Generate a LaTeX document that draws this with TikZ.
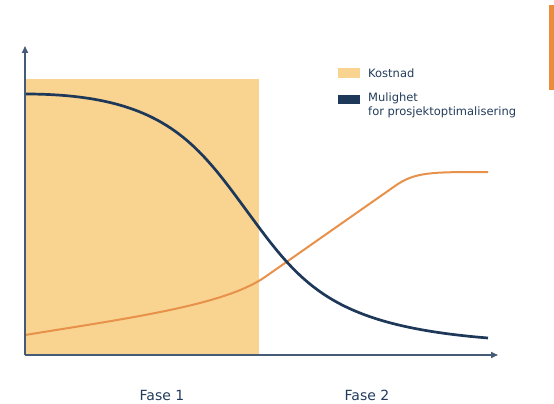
\documentclass[tikz,border=0pt]{standalone}
\usepackage{fontspec}
\setmainfont{DejaVu Sans}
\usetikzlibrary{arrows.meta}
\definecolor{fillc}{RGB}{249,212,145}
\definecolor{darkc}{RGB}{29,56,88}
\definecolor{orangec}{RGB}{232,145,74}
\definecolor{axisc}{RGB}{70,92,118}
\definecolor{textc}{RGB}{35,60,92}
\definecolor{barc}{RGB}{235,140,60}
\tikzset{
  axisline/.style={draw=axisc, line width=1.6pt, -{Triangle[length=7pt,width=6pt]}},
  legtext/.style={anchor=west, font=\fontsize{11.5}{14}\selectfont, text=textc, align=left, inner sep=0pt},
  phasetext/.style={font=\fontsize{14}{16}\selectfont, text=textc, inner sep=0pt}
}
\begin{document}
\begin{tikzpicture}[x=1pt,y=-1pt]
\useasboundingbox (0,0) rectangle (554,404);
% orange side bar
\fill[barc] (549,5) rectangle (554,90);
% cost area
\fill[fillc] (25,79) rectangle (259,354);
% curves
\draw[orangec, line width=2pt] (25,335) .. controls (130,318) and (225,305) .. (265,277)
  -- (395,186) .. controls (415,172) and (430,172) .. (488,172);
\draw[darkc, line width=2.7pt] (25,94) .. controls (170,94) and (200,148) .. (255,222)
  .. controls (305,290) and (340,326) .. (488,338);
% axes
\coordinate (o) at (25,355);
\coordinate (ytop) at (25,46);
\coordinate (xend) at (498,355);
\draw[axisline] (o) -- (ytop);
\draw[axisline] (o) -- (xend);
% legend
\fill[fillc] (338,68) rectangle (360,78);
\fill[darkc] (338,95) rectangle (360,104);
\node[legtext] (kost) at (368,73) {Kostnad};
\node[legtext, anchor=north west] (mul) at (368,93) {Mulighet\\for prosjektoptimalisering};
% phases
\node[phasetext] (f1) at (162,395) {Fase 1};
\node[phasetext] (f2) at (367,395) {Fase 2};
\end{tikzpicture}
\end{document}
